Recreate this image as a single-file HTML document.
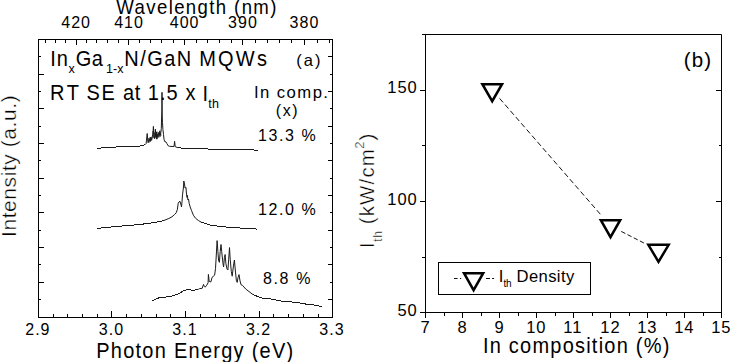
<!DOCTYPE html>
<html><head><meta charset="utf-8"><style>
html,body{margin:0;padding:0;background:#fff;width:731px;height:362px;overflow:hidden}
svg{display:block}
text{font-family:"Liberation Sans",sans-serif;fill:#000}
.r{stroke:#fff;stroke-width:0.35px}
</style></head><body>
<svg width="731" height="362" viewBox="0 0 731 362">
<rect width="731" height="362" fill="#fff"/>
<g fill="none" stroke="#1a1a1a" stroke-width="1" stroke-linejoin="round" shape-rendering="crispEdges">
<path d="M97.0 148.4 L104.9 147.6 L113.0 147.2 L122.3 146.6 L130.0 146.5 L137.2 146.3 L141.0 145.9 L143.5 145.3 L145.2 144.6"/>
<path d="M178.0 147.8 L185.0 148.3 L200.0 148.7 L215.0 149.3 L240.0 149.7 L257.7 150.1"/>
<path d="M97.4 228.4 L114.6 226.6 L131.9 225.2 L146.6 223.7 L156.5 222.2 L163.9 220.5"/>
<path d="M201.5 222.3 L205.8 223.7 L211.0 225.3 L218.1 226.2 L227.0 227.1 L237.8 227.9 L257.5 229.1"/>
<path d="M152.4 300.7 L156.9 298.5 L160.4 297.4 L163.8 297.6 L168.0 296.4 L170.7 296.4 L173.5 295.3 L177.6 294.2 L180.4 292.6 L183.8 290.7 L188.0 289.3 L191.4 290.0 L194.9 290.0 L198.3 289.3"/>
<path d="M253.0 294.6 L261.4 297.9 L269.9 298.8 L282.9 301.4 L297.2 302.4 L307.6 304.4 L315.4 305.1 L321.9 306.6"/>
</g>
<g fill="none" stroke="#1a1a1a" stroke-width="1" stroke-linejoin="round">
<path d="M147.8 141L148.4 138L149 142.5L149.7 137.5L150.4 141.5L151 138.5L151.6 140.5L152.5 137L153 131L153.6 137.5L154.1 133L154.6 139L155.1 132L155.6 138L156 134L156.5 137.5L157 131.5L157.5 138.5L158 134L158.8 137.5L159.4 133L160 137L160.6 133.5L161.1 136" stroke-width="0.8" stroke="#444"/>
<path d="M145.2 144.6 L146.1 143.6 L146.5 140.1 L147.2 133.5 L147.6 138.8 L148.1 142.7 L148.7 140.5 L149.4 139.2 L150.1 141.4 L150.8 137.0 L151.4 140.1 L152.3 136.1 L152.9 134.8 L153.4 126.4 L153.8 133.9 L154.3 138.3 L154.9 135.7 L155.4 129.0 L155.8 136.6 L156.3 132.1 L156.7 139.2 L157.1 134.3 L157.8 137.0 L158.5 132.6 L159.1 135.7 L159.8 130.8 L160.3 135.2 L160.9 132.1 L161.3 128.6 L161.6 118.0 L161.9 110.0 L162.0 92.3 L162.1 110.0 L162.3 118.0 L162.5 122.4 L162.9 129.5 L163.5 134.3 L164.0 139.2 L164.6 141.4 L166.0 141.9 L166.9 143.6 L168.2 145.8 L169.5 146.3 L171.0 146.4 L174.0 146.5 L174.3 144.0 L174.6 141.3 L174.9 144.0 L175.2 146.6 L178.0 147.8"/>
<path d="M163.9 220.5 L168.8 218.5 L172.0 216.8 L174.5 214.6 L176.2 212.8 L177.4 209.4 L178.2 203.3 L179.0 201.9 L180.0 201.4 L181.0 204.9 L181.5 206.9 L182.0 201.9 L182.5 194.9 L183.5 187.0 L183.8 181.0 L184.5 184.0 L185.0 188.0 L186.0 187.5 L186.4 193.0 L187.0 197.4 L187.4 195.4 L187.9 199.9 L188.5 199.0 L189.2 203.5 L190.2 207.0 L191.5 210.5 L193.4 215.2 L195.5 218.2 L198.4 220.5 L201.5 222.3"/>
<path d="M198.3 289.3 L199.3 288.7 L202.2 288.3 L203.5 284.4 L204.3 286.4 L205.1 287.2 L206.8 285.2 L208.1 282.7 L208.4 274.4 L209.2 281.5 L210.9 281.9 L212.1 277.3 L214.6 275.2 L215.5 268.6 L215.9 262.0 L217.1 240.6 L217.9 251.5 L218.6 260.7 L219.4 262.3 L220.2 251.5 L221.0 244.5 L221.7 251.5 L223.0 263.8 L223.6 266.9 L224.4 257.6 L225.1 254.5 L225.9 263.8 L227.1 269.2 L227.9 270.0 L228.7 259.2 L229.5 247.6 L230.2 259.2 L231.3 271.5 L232.2 276.2 L233.3 266.9 L234.4 260.0 L235.3 270.0 L236.4 280.8 L237.2 282.4 L238.0 277.7 L239.0 274.6 L240.0 280.8 L241.0 284.7 L242.6 285.5 L245.8 289.1 L253.0 294.6"/>
</g>
<rect x="38.5" y="39.5" width="294" height="278" fill="none" stroke="#000" stroke-width="1"/>
<path d="M425.5 34.5H721.5V312.5H425.5Z" fill="none" stroke="#000"/>
<path d="M38.50 318.00L38.50 311.00 M53.50 318.00L53.50 314.00 M67.50 318.00L67.50 314.00 M82.50 318.00L82.50 314.00 M97.50 318.00L97.50 314.00 M111.50 318.00L111.50 311.00 M126.50 318.00L126.50 314.00 M141.50 318.00L141.50 314.00 M156.50 318.00L156.50 314.00 M170.50 318.00L170.50 314.00 M185.50 318.00L185.50 311.00 M200.50 318.00L200.50 314.00 M215.50 318.00L215.50 314.00 M229.50 318.00L229.50 314.00 M244.50 318.00L244.50 314.00 M259.50 318.00L259.50 311.00 M273.50 318.00L273.50 314.00 M288.50 318.00L288.50 314.00 M303.50 318.00L303.50 314.00 M318.50 318.00L318.50 314.00 M332.50 318.00L332.50 311.00 M45.50 39.00L45.50 43.00 M55.50 39.00L55.50 43.00 M65.50 39.00L65.50 43.00 M76.50 39.00L76.50 45.00 M86.50 39.00L86.50 43.00 M96.50 39.00L96.50 43.00 M107.50 39.00L107.50 43.00 M118.50 39.00L118.50 43.00 M128.50 39.00L128.50 45.00 M139.50 39.00L139.50 43.00 M150.50 39.00L150.50 43.00 M161.50 39.00L161.50 43.00 M173.50 39.00L173.50 43.00 M184.50 39.00L184.50 45.00 M196.50 39.00L196.50 43.00 M207.50 39.00L207.50 43.00 M219.50 39.00L219.50 43.00 M231.50 39.00L231.50 43.00 M242.50 39.00L242.50 45.00 M255.50 39.00L255.50 43.00 M267.50 39.00L267.50 43.00 M279.50 39.00L279.50 43.00 M291.50 39.00L291.50 43.00 M304.50 39.00L304.50 45.00 M317.50 39.00L317.50 43.00 M329.50 39.00L329.50 43.00 M38.00 56.50L41.00 56.50 M333.00 56.50L328.00 56.50 M38.00 74.50L44.00 74.50 M333.00 74.50L330.00 74.50 M38.00 91.50L41.00 91.50 M333.00 91.50L328.00 91.50 M38.00 108.50L44.00 108.50 M333.00 108.50L330.00 108.50 M38.00 126.50L41.00 126.50 M333.00 126.50L328.00 126.50 M38.00 143.50L44.00 143.50 M333.00 143.50L330.00 143.50 M38.00 160.50L41.00 160.50 M333.00 160.50L328.00 160.50 M38.00 178.50L44.00 178.50 M333.00 178.50L330.00 178.50 M38.00 195.50L41.00 195.50 M333.00 195.50L328.00 195.50 M38.00 212.50L44.00 212.50 M333.00 212.50L330.00 212.50 M38.00 230.50L41.00 230.50 M333.00 230.50L328.00 230.50 M38.00 247.50L44.00 247.50 M333.00 247.50L330.00 247.50 M38.00 264.50L41.00 264.50 M333.00 264.50L328.00 264.50 M38.00 282.50L44.00 282.50 M333.00 282.50L330.00 282.50 M38.00 299.50L41.00 299.50 M333.00 299.50L328.00 299.50 M425.50 312.00L425.50 318.00 M444.50 312.00L444.50 316.00 M462.50 312.00L462.50 318.00 M481.50 312.00L481.50 316.00 M499.50 312.00L499.50 318.00 M518.50 312.00L518.50 316.00 M536.50 312.00L536.50 318.00 M555.50 312.00L555.50 316.00 M573.50 312.00L573.50 318.00 M592.50 312.00L592.50 316.00 M610.50 312.00L610.50 318.00 M629.50 312.00L629.50 316.00 M647.50 312.00L647.50 318.00 M666.50 312.00L666.50 316.00 M684.50 312.00L684.50 318.00 M703.50 312.00L703.50 316.00 M721.50 312.00L721.50 318.00 M426.00 312.50L420.00 312.50 M426.00 257.50L422.00 257.50 M721.00 257.50L719.00 257.50 M426.00 201.50L420.00 201.50 M721.00 201.50L716.00 201.50 M426.00 145.50L422.00 145.50 M721.00 145.50L719.00 145.50 M426.00 90.50L420.00 90.50 M721.00 90.50L716.00 90.50 M426.00 34.50L422.00 34.50" stroke="#000" stroke-width="1" fill="none"/>
<path d="M499.60 98.41L600.29 214.16" stroke="#111" stroke-width="1" stroke-dasharray="5.3 2.93" fill="none"/>
<path d="M621.30 231.44L643.91 243.02" stroke="#111" stroke-width="1" stroke-dasharray="4.5 2.47" fill="none"/>
<path d="M482.37 84.24H502.03L492.20 101.19Z" fill="#fff" stroke="#000" stroke-width="2.5" stroke-miterlimit="10"/><path d="M600.84 220.24H620.16L610.50 237.19Z" fill="#fff" stroke="#000" stroke-width="2.5" stroke-miterlimit="10"/><path d="M648.34 244.84H668.66L658.50 261.79Z" fill="#fff" stroke="#000" stroke-width="2.5" stroke-miterlimit="10"/>
<rect x="438.5" y="262.5" width="152" height="32" fill="#fff" stroke="#000" stroke-width="1"/>
<path d="M454 278.5H457.6M460 278.5H461.2M486 278.5H490M492.1 278.5H494.1" stroke="#111" stroke-width="1" fill="none"/>
<path d="M464.02 273.14H483.18L473.60 290.09Z" fill="#fff" stroke="#000" stroke-width="2.5" stroke-miterlimit="10"/>
<text x="0" y="13.90" transform="matrix(0.93 0 0 1 116.31 0)" font-size="20" letter-spacing="1.48">Wavelength (nm)</text>
<text x="61.30" y="27.50" font-size="16" letter-spacing="1.00">420</text>
<text x="114.22" y="27.50" font-size="16" letter-spacing="1.00">410</text>
<text x="169.79" y="27.50" font-size="16" letter-spacing="1.00">400</text>
<text x="228.09" y="27.50" font-size="16" letter-spacing="1.00">390</text>
<text x="289.58" y="27.50" font-size="16" letter-spacing="1.00">380</text>
<text x="25.26" y="334.80" font-size="16" letter-spacing="1.00">2.9</text>
<text x="98.79" y="334.80" font-size="16" letter-spacing="1.00">3.0</text>
<text x="172.37" y="334.80" font-size="16" letter-spacing="1.00">3.1</text>
<text x="245.88" y="334.80" font-size="16" letter-spacing="1.00">3.2</text>
<text x="319.33" y="334.80" font-size="16" letter-spacing="1.00">3.3</text>
<text x="0" y="357.60" transform="matrix(0.93 0 0 1 96.16 0)" font-size="21.5" letter-spacing="1.36">Photon Energy (eV)</text>
<text x="16.10" y="236.93" transform="rotate(-90 16.10 236.93)" class="r" font-size="21" letter-spacing="0.57">Intensity (a.u.)</text>
<text x="0" y="65.80" transform="matrix(0.93 0 0 1 50.26 0)" font-size="21.5" letter-spacing="1.14">In</text>
<text x="68.55" y="72.90" font-size="12.5" letter-spacing="0.00">x</text>
<text x="0" y="65.80" transform="matrix(0.93 0 0 1 75.70 0)" font-size="21.5" letter-spacing="0.67">Ga</text>
<text x="106.05" y="72.80" font-size="12.5" letter-spacing="0.01">1-x</text>
<text x="0" y="65.80" transform="matrix(0.93 0 0 1 124.36 0)" font-size="21.5" letter-spacing="1.55">N/GaN</text>
<text x="0" y="65.80" transform="matrix(0.93 0 0 1 199.26 0)" font-size="21.5" letter-spacing="2.36">MQWs</text>
<text x="296.28" y="65.60" font-size="16.5" letter-spacing="1.99">(a)</text>
<text x="0" y="100.50" transform="matrix(0.93 0 0 1 50.06 0)" font-size="21.5" letter-spacing="2.74">RT</text>
<text x="0" y="100.50" transform="matrix(0.93 0 0 1 86.38 0)" font-size="21.5" letter-spacing="2.05">SE</text>
<text x="0" y="100.50" transform="matrix(0.93 0 0 1 122.96 0)" font-size="21.5" letter-spacing="0.76">at</text>
<text x="0" y="100.50" transform="matrix(0.93 0 0 1 147.78 0)" font-size="21.5" letter-spacing="1.06">1.5</text>
<text x="0" y="100.50" transform="matrix(0.93 0 0 1 185.56 0)" font-size="21.5" letter-spacing="0.00">x</text>
<text x="0" y="100.60" transform="matrix(0.93 0 0 1 202.46 0)" font-size="21.5" letter-spacing="0.00">I</text>
<text x="208.21" y="107.80" font-size="12.5" letter-spacing="0.37">th</text>
<text x="254.06" y="98.00" font-size="16.7" letter-spacing="1.42">In comp.</text>
<text x="275.71" y="116.30" font-size="16" letter-spacing="1.61">(x)</text>
<text x="258.08" y="141.10" font-size="16" letter-spacing="1.59">13.3 %</text>
<text x="258.08" y="214.80" font-size="16" letter-spacing="1.59">12.0 %</text>
<text x="263.01" y="283.80" font-size="16" letter-spacing="1.63">8.8 %</text>
<text x="397.40" y="315.70" font-size="16.5" letter-spacing="0.90">50</text>
<text x="387.32" y="204.80" font-size="16.5" letter-spacing="0.90">100</text>
<text x="387.32" y="93.00" font-size="16.5" letter-spacing="0.90">150</text>
<text x="420.60" y="332.60" font-size="16.5" letter-spacing="0.90">7</text>
<text x="457.61" y="332.60" font-size="16.5" letter-spacing="0.90">8</text>
<text x="494.61" y="332.60" font-size="16.5" letter-spacing="0.90">9</text>
<text x="526.27" y="332.60" font-size="16.5" letter-spacing="0.90">10</text>
<text x="563.35" y="332.60" font-size="16.5" letter-spacing="0.90">11</text>
<text x="600.36" y="332.60" font-size="16.5" letter-spacing="0.90">12</text>
<text x="637.31" y="332.60" font-size="16.5" letter-spacing="0.90">13</text>
<text x="674.19" y="332.60" font-size="16.5" letter-spacing="0.90">14</text>
<text x="711.30" y="332.60" font-size="16.5" letter-spacing="0.90">15</text>
<text x="0" y="353.00" transform="matrix(0.93 0 0 1 482.96 0)" font-size="21.5" letter-spacing="1.32">In composition (%)</text>
<text x="374.30" y="247.99" transform="rotate(-90 374.30 247.99)" class="r" font-size="20.5" letter-spacing="0.00">I</text>
<text x="381.60" y="241.78" transform="rotate(-90 381.60 241.78)" class="r" font-size="12" letter-spacing="0.65">th</text>
<text x="374.30" y="224.17" transform="rotate(-90 374.30 224.17)" class="r" font-size="20.5" letter-spacing="1.11">(kW/cm</text>
<text x="364.10" y="148.65" transform="rotate(-90 364.10 148.65)" class="r" font-size="13" letter-spacing="0.00">2</text>
<text x="374.30" y="140.62" transform="rotate(-90 374.30 140.62)" class="r" font-size="20.5" letter-spacing="0.00">)</text>
<text x="683.63" y="66.60" font-size="20.5" letter-spacing="1.20">(b)</text>
<text x="498.87" y="281.80" font-size="16.6" letter-spacing="0.00">I</text>
<text x="503.45" y="286.90" font-size="10" letter-spacing="-0.24">th</text>
<text x="516.54" y="281.80" font-size="16.6" letter-spacing="0.39">Density</text>
</svg>
</body></html>
